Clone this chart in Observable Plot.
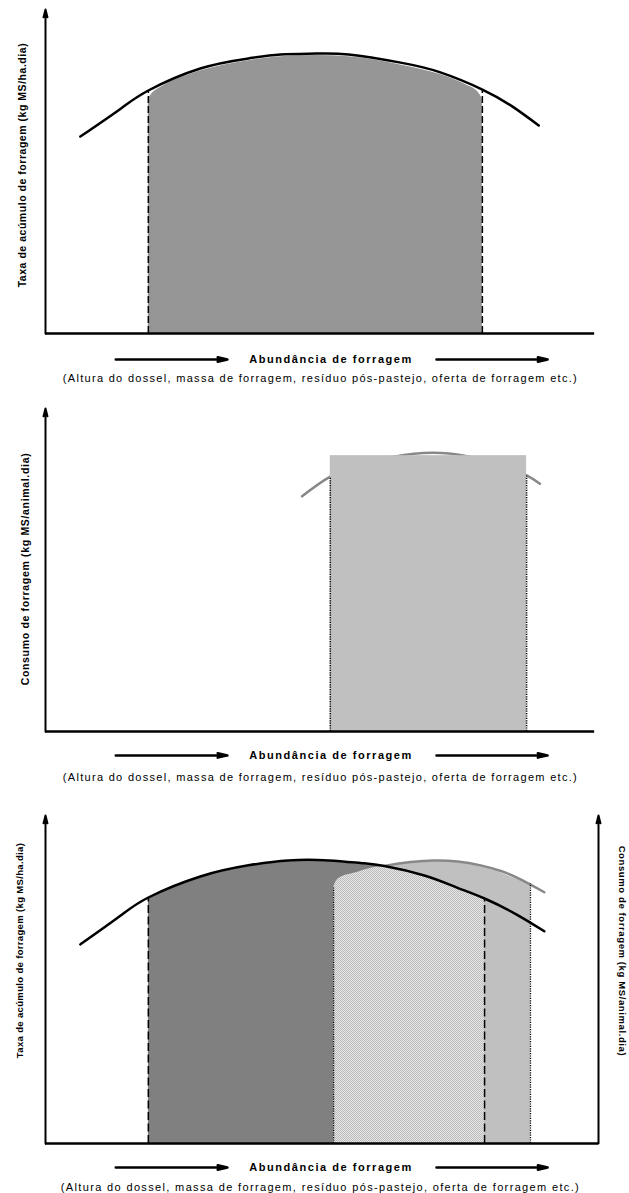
<!DOCTYPE html>
<html>
<head>
<meta charset="utf-8">
<script src="https://cdn.jsdelivr.net/npm/d3@7"></script>
<script src="https://cdn.jsdelivr.net/npm/@observablehq/plot@0.6"></script>
<style>
  html, body { margin: 0; padding: 0; background: #fff; }
  #chart svg { display: block; }
</style>
</head>
<body>
<div id="chart"></div>
<script>
// ---------- Data (abundance 0–100, response 0–100, conceptual units) ----------
// Panel 1: forage accumulation rate
const growthX      = [6.3, 13.6, 18.6, 28, 36.7, 42.5, 49, 54.8, 64.2, 71.4, 79, 84.4, 89.2];
const growthY      = [60.8, 69.4, 75, 81.8, 84.9, 86.1, 86.4, 86.1, 83.6, 80.6, 75.3, 70.1, 64.2];
const growthFillX  = [18.6, 19.4, 20.8, 28, 36.7, 42.5, 49, 54.8, 64.2, 71.4, 76.2, 78.2, 79];
const growthFillY  = [72.5, 74.3, 75.9, 81, 84.2, 85.4, 85.8, 85.4, 82.9, 79.9, 76.6, 74.5, 72.5];
const growthLimits = [18.6, 79];
const growthLimTop = [75, 75.3];

// Panel 2: forage intake
const intakeX      = [46.4, 51.5, 57, 63, 70, 76, 82, 87, 89.4];
const intakeY      = [72.8, 78.9, 82.6, 85.1, 86.3, 85.3, 82.8, 79.3, 76.7];
const intakeBand   = [51.5, 87];
const intakeTop    = [85.4];
const intakeLimTop = [78.7, 79];

// Panel 3: both responses combined
const growth3X     = [6.3, 13.6, 18.6, 28, 36.7, 43.9, 51.2, 57, 61.3, 68.5, 74.3, 79.4, 85.2, 90.2];
const growth3Y     = [60.7, 69.5, 75, 81.4, 84.8, 86.3, 86.3, 85.5, 84.6, 81.7, 78.1, 74.7, 69.8, 64.7];
const intake3X     = [55.6, 61.8, 66, 70.2, 74.5, 78.7, 82.5, 85.9, 90.2];
const intake3Y     = [82.7, 84.8, 85.8, 86.3, 86, 84.8, 83, 80.5, 76.6];
const lightFillX   = [52.1, 52.6, 53.6, 55.6, 61.8, 70.2, 78.7, 85.9, 87.7];
const lightFillY   = [78, 80, 81.4, 82.5, 84.5, 86, 84.5, 80.2, 79.2];
const overlapX     = [52.1, 52.6, 53.6, 55.6, 58.4, 61.8, 68.5, 74.3, 79.4];
const overlapY     = [78, 80, 81.3, 82.3, 83.7, 84.5, 81.7, 78.1, 74.7];
const growth3Lim   = [18.6, 79.4];
const growth3LimTop= [75, 74.7];
const intake3Lim   = [52.1, 87.7];
const intake3LimTop= [78, 79.2];

// Texts
const xTitle    = "Abundância de forragem";
const xSubtitle = "(Altura do dossel, massa de forragem, resíduo pós-pastejo, oferta de forragem etc.)";
const yGrowth   = "Taxa de acúmulo de forragem (kg MS/ha.dia)";
const yIntake   = "Consumo de forragem (kg MS/animal.dia)";

// ---------- helpers ----------
const pts = (xs, ys) => xs.map((x, i) => ({x, y: ys[i]}));
const between = (xs, ys, a, b) => pts(xs, ys).filter(d => d.x >= a - 1e-9 && d.x <= b + 1e-9);
const FONT = "'Liberation Sans', Arial, Helvetica, sans-serif";

function xAxisDecor(axisEnd, titleY, subY) {
  return [
    Plot.ruleY([0], {x1: 0, x2: axisEnd, stroke: "#000", strokeWidth: 2.5}),
    Plot.arrow([{a: 12.7, b: 32.9}, {a: 70.7, b: 90.8}], {
      x1: "a", x2: "b", y1: titleY, y2: titleY,
      stroke: "#000", strokeWidth: 2.5, headLength: 6, headAngle: 26
    }),
    Plot.text([xTitle], {x: 51.5, y: titleY, text: d => d, fontWeight: "bold", fontSize: 11, fill: "#000"}),
    Plot.text([xSubtitle], {x: 49.6, y: subY, text: d => d, fontSize: 11, fill: "#000"})
  ];
}

function yAxisArrow(x) {
  return Plot.arrow([{v: 0}], {x1: x, x2: x, y1: 0, y2: 100, stroke: "#000", strokeWidth: 2, headLength: 6, headAngle: 28});
}

function fitTexts(svg, lengths) {
  d3.select(svg).selectAll("text").each(function() {
    const t = this.textContent;
    if (lengths[t] != null) {
      d3.select(this).attr("textLength", lengths[t]).attr("lengthAdjust", "spacing");
    }
  });
}

const common = (height, mt, mb) => ({
  width: 629, height,
  marginLeft: 45, marginRight: 31, marginTop: mt, marginBottom: mb,
  x: {domain: [0, 100], axis: null},
  y: {domain: [0, 100], axis: null},
  style: {fontFamily: FONT, background: "#fff", overflow: "visible", color: "#000"}
});

// ---------- Panel 1 ----------
const p1 = Plot.plot({
  ...common(395, 9, 62),
  marks: [
    Plot.areaY(pts(growthFillX, growthFillY), {x: "x", y: "y", fill: "#969696", curve: "monotone-x"}),
    Plot.ruleX(pts(growthLimits, growthLimTop), {x: "x", y1: 0, y2: "y", stroke: "#000", strokeWidth: 1.5, strokeDasharray: "7,3"}),
    Plot.line(pts(growthX, growthY), {x: "x", y: "y", stroke: "#000", strokeWidth: 2.5, curve: "natural"}),
    yAxisArrow(0),
    ...xAxisDecor(99.3, -8.0, -13.9),
    Plot.text([yGrowth], {x: -4.2, y: 51.9, text: d => d, rotate: -90, fontWeight: "bold", fontSize: 10.5, fill: "#000"})
  ]
});
fitTexts(p1, {[xTitle]: 162, [xSubtitle]: 514, [yGrowth]: 244});

// ---------- Panel 2 ----------
const p2 = Plot.plot({
  ...common(395, 13, 59),
  marks: [
    Plot.line(pts(intakeX, intakeY), {x: "x", y: "y", stroke: "#888", strokeWidth: 2.5, curve: "natural"}),
    Plot.rect([{x1: intakeBand[0], x2: intakeBand[1], top: intakeTop[0]}], {x1: "x1", x2: "x2", y1: 0, y2: "top", fill: "#c0c0c0"}),
    Plot.ruleX(pts(intakeBand, intakeLimTop), {x: "x", y1: 0, y2: "y", stroke: "#000", strokeWidth: 1.5, strokeDasharray: "1.2,1.2"}),
    yAxisArrow(0),
    ...xAxisDecor(99.3, -7.4, -14.2),
    Plot.text([yIntake], {x: -3.6, y: 50.2, text: d => d, rotate: -90, fontWeight: "bold", fontSize: 10.5, fill: "#000"})
  ]
});
fitTexts(p2, {[xTitle]: 162, [xSubtitle]: 514, [yIntake]: 232});

// ---------- Panel 3 ----------
const p3 = Plot.plot({
  ...common(403, 25, 50),
  marks: [
    Plot.areaY(pts(lightFillX, lightFillY), {x: "x", y: "y", fill: "#c0c0c0", curve: "monotone-x"}),
    Plot.line(pts(intake3X, intake3Y), {x: "x", y: "y", stroke: "#888", strokeWidth: 2.5, curve: "natural"}),
    Plot.areaY(between(growth3X, growth3Y, growth3Lim[0], growth3Lim[1]), {x: "x", y: d => d.y - 0.4, fill: "#808080", curve: "natural"}),
    Plot.areaY(pts(overlapX, overlapY), {x: "x", y: "y", fill: "url(#stipple)", curve: "monotone-x"}),
    Plot.ruleX(pts(growth3Lim, growth3LimTop), {x: "x", y1: 0, y2: "y", stroke: "#000", strokeWidth: 1.5, strokeDasharray: "8,3.5"}),
    Plot.ruleX(pts(intake3Lim, intake3LimTop), {x: "x", y1: 0, y2: "y", stroke: "#000", strokeWidth: 1.3, strokeDasharray: "1.2,1.2"}),
    Plot.line(pts(growth3X, growth3Y), {x: "x", y: "y", stroke: "#000", strokeWidth: 2.5, curve: "natural"}),
    yAxisArrow(0),
    yAxisArrow(100),
    ...xAxisDecor(100, -7.3, -13.4),
    Plot.text([yGrowth], {x: -4.7, y: 58.8, text: d => d, rotate: -90, fontWeight: "bold", fontSize: 9.5, fill: "#000"}),
    Plot.text([yIntake], {x: 104.2, y: 58.8, text: d => d, rotate: 90, fontWeight: "bold", fontSize: 9.5, fill: "#000"})
  ]
});
fitTexts(p3, {[xTitle]: 162, [xSubtitle]: 518, [yGrowth]: 215, [yIntake]: 210});

// stipple pattern for the overlap region
const defs = d3.select(p3).insert("defs", ":first-child");
const pat = defs.append("pattern").attr("id", "stipple").attr("width", 2).attr("height", 2).attr("patternUnits", "userSpaceOnUse");
pat.append("rect").attr("width", 2).attr("height", 2).attr("fill", "#e6e6e6");
pat.append("rect").attr("width", 1).attr("height", 1).attr("fill", "#bcbcbc");
pat.append("rect").attr("x", 1).attr("y", 1).attr("width", 1).attr("height", 1).attr("fill", "#bcbcbc");

const root = document.getElementById("chart");
root.append(p1, p2, p3);
</script>
</body>
</html>
